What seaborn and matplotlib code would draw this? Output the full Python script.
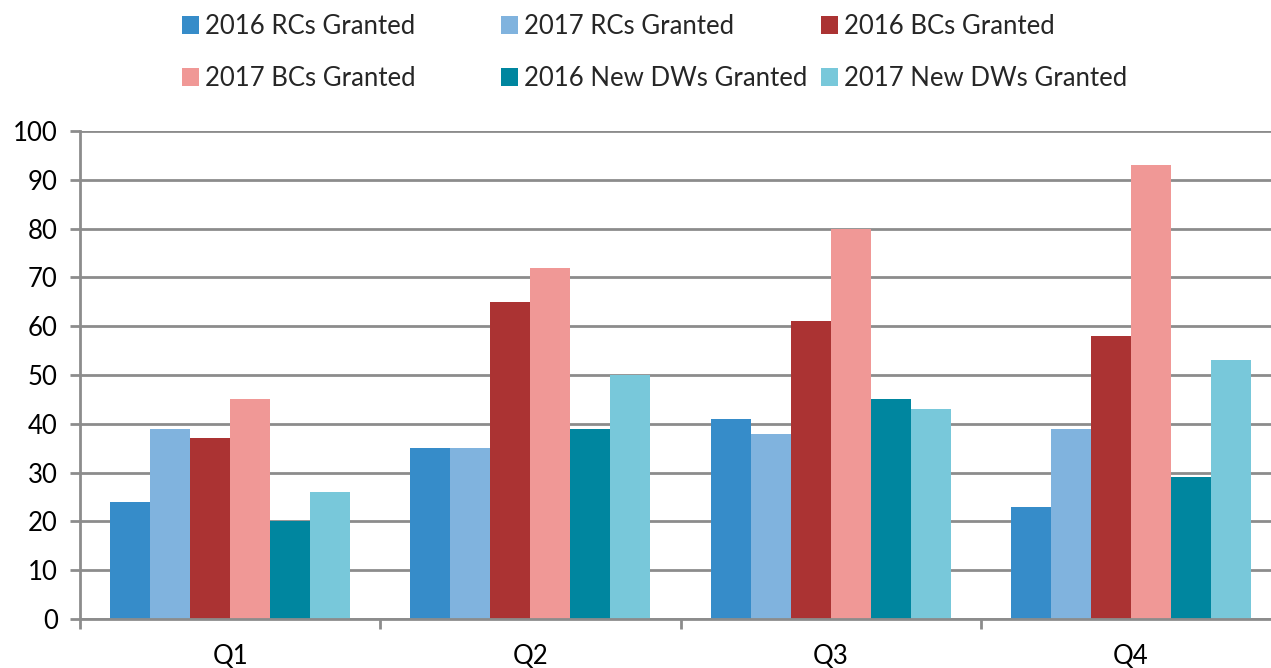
import matplotlib
matplotlib.use("Agg")
import matplotlib.pyplot as plt
import seaborn as sns
import pandas as pd
from matplotlib.patches import Patch

quarters = ["Q1", "Q2", "Q3", "Q4"]
series = ["2016 RCs Granted", "2017 RCs Granted", "2016 BCs Granted",
          "2017 BCs Granted", "2016 New DWs Granted", "2017 New DWs Granted"]
rc_2016 = [24, 35, 41, 23]
rc_2017 = [39, 35, 38, 39]
bc_2016 = [37, 65, 61, 58]
bc_2017 = [45, 72, 80, 93]
dw_2016 = [20, 39, 45, 29]
dw_2017 = [26, 50, 43, 53]
colors = ["#368CC9", "#80B3DE", "#AB3333", "#F09896", "#00869F", "#78C8DA"]
yticks = list(range(0, 101, 10))

values = [rc_2016, rc_2017, bc_2016, bc_2017, dw_2016, dw_2017]
rows = []
for s, vals in zip(series, values):
    for q, v in zip(quarters, vals):
        rows.append({"Quarter": q, "Series": s, "Value": v})
df = pd.DataFrame(rows)

sns.set_theme(style="white")
plt.rcParams["font.family"] = ["Lato", "DejaVu Sans"]

FS = 18.5
W, H = 1271, 668
fig = plt.figure(figsize=(W / 100, H / 100), dpi=100)
ax = fig.add_axes([80 / W, (H - 619) / H, 1201 / W, 488 / H])

sns.barplot(data=df, x="Quarter", y="Value", hue="Series", hue_order=series,
            order=quarters, palette=colors, width=0.8, gap=0, linewidth=0,
            saturation=1, ax=ax, legend=False)

grid_c = "#8C8C8C"
ax.set_ylim(0, 100)
ax.set_xlim(-0.5, 3.5)
ax.set_yticks(yticks)
ax.set_yticklabels([str(t) for t in yticks])
ax.yaxis.grid(True, color=grid_c, linewidth=2)
ax.set_axisbelow(True)
ax.set_xlabel("")
ax.set_ylabel("")

ax.set_xticks([-0.5, 0.5, 1.5, 2.5, 3.5])
ax.set_xticklabels([])
ax.set_xticks(range(len(quarters)), minor=True)
ax.set_xticklabels(quarters, minor=True)
ax.tick_params(axis="x", which="major", length=7, width=2, color=grid_c, direction="out", bottom=True)
ax.tick_params(axis="x", which="minor", length=0, pad=18, labelsize=FS, colors="black")
ax.tick_params(axis="y", length=7, width=2, color=grid_c, direction="out", left=True, pad=9,
               labelsize=FS, labelcolor="black")

for side in ["top", "right"]:
    ax.spines[side].set_visible(False)
for side in ["left", "bottom"]:
    ax.spines[side].set_color(grid_c)
    ax.spines[side].set_linewidth(2)

# Legend: three columns placed like the original
col_x = [182, 501, 821]
for ci, cx in enumerate(col_x):
    idx = [ci, ci + 3]
    handles = [Patch(facecolor=colors[i], edgecolor="none") for i in idx]
    labels = [series[i] for i in idx]
    fig.legend(handles, labels, loc="upper left",
               bbox_to_anchor=(cx / W, 1 - 14 / H), frameon=False,
               fontsize=FS, handlelength=0.66, handleheight=0.66,
               handletextpad=0.25, labelspacing=1.05, borderpad=0,
               borderaxespad=0)

fig.savefig("out.png", dpi=100)
